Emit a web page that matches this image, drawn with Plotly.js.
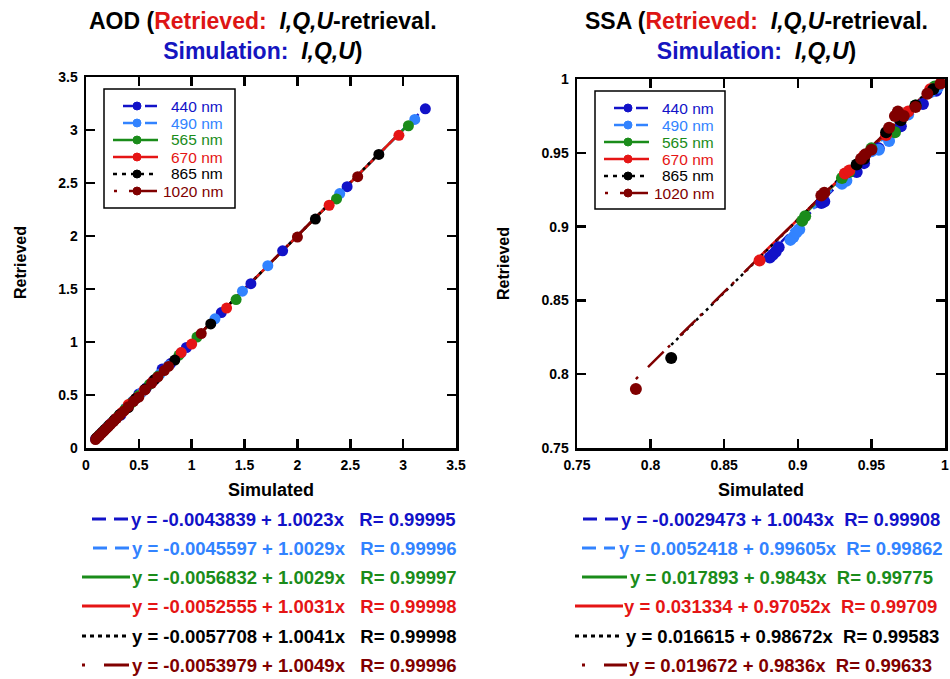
<!DOCTYPE html>
<html>
<head>
<meta charset="utf-8">
<script src="https://cdn.plot.ly/plotly-3.0.1.min.js"></script>
<style>html,body{margin:0;padding:0;background:#fff;}#chart{width:950px;height:679px;}</style>
</head>
<body>
<div id="chart"></div>
<script>
// ---------- DATA ----------
const wavelengths = ['440 nm', '490 nm', '565 nm', '670 nm', '865 nm', '1020 nm'];

// AOD: simulated (x) vs retrieved (y)
const aodSim440 = [0.09,0.13,0.16,0.2,0.24,0.28,0.33,0.38,0.44,0.5,0.57,0.64,0.72,0.8,0.95,1.28,1.56,1.86,2.47,3.21];
const aodRet440 = [0.086,0.126,0.156,0.196,0.237,0.277,0.31,0.377,0.437,0.51,0.567,0.637,0.745,0.797,0.948,1.278,1.55,1.86,2.465,3.2];
const aodSim490 = [0.1,0.14,0.18,0.22,0.27,0.32,0.38,0.45,0.53,0.61,0.7,0.78,0.9,1.22,1.48,1.72,2.4,3.11];
const aodRet490 = [0.096,0.136,0.176,0.216,0.266,0.316,0.377,0.447,0.527,0.607,0.698,0.778,0.898,1.219,1.479,1.72,2.4,3.1];
const aodSim565 = [0.1,0.13,0.17,0.21,0.26,0.31,0.37,0.43,0.5,0.6,0.68,0.88,1.05,1.42,2.37,3.05];
const aodRet565 = [0.095,0.125,0.165,0.205,0.255,0.305,0.366,0.426,0.496,0.6,0.676,0.877,1.047,1.4,2.35,3.04];
const aodSim670 = [0.1,0.12,0.15,0.19,0.23,0.28,0.34,0.4,0.47,0.55,0.63,0.9,1.0,1.33,2.3,2.96];
const aodRet670 = [0.095,0.115,0.145,0.185,0.226,0.276,0.336,0.41,0.466,0.546,0.627,0.9,0.98,1.32,2.29,2.95];
const aodSim865 = [0.1,0.12,0.15,0.18,0.22,0.27,0.32,0.4,0.47,0.56,0.65,0.84,1.18,2.17,2.77];
const aodRet865 = [0.095,0.115,0.145,0.175,0.215,0.265,0.316,0.38,0.466,0.556,0.647,0.83,1.17,2.16,2.77];
const aodSim1020 = [0.09,0.11,0.13,0.15,0.17,0.19,0.21,0.23,0.26,0.29,0.32,0.36,0.4,0.45,0.5,0.56,0.62,0.68,0.74,0.78,1.09,2.0,2.57];
const aodRet1020 = [0.08,0.1,0.12,0.14,0.16,0.18,0.2,0.22,0.25,0.28,0.31,0.35,0.39,0.44,0.48,0.55,0.61,0.67,0.73,0.77,1.08,1.99,2.56];

// SSA: simulated (x) vs retrieved (y)
const ssaSim440 = [0.881,0.883,0.885,0.887,0.916,0.918,0.94,0.945,0.955,0.97,0.985,0.994];
const ssaRet440 = [0.879,0.881,0.883,0.886,0.916,0.917,0.937,0.943,0.953,0.968,0.983,0.992];
const ssaSim490 = [0.895,0.897,0.899,0.901,0.93,0.933,0.95,0.955,0.962,0.975,0.99,0.995];
const ssaRet490 = [0.891,0.893,0.896,0.898,0.929,0.931,0.951,0.952,0.958,0.976,0.991,0.994];
const ssaSim565 = [0.903,0.905,0.93,0.935,0.95,0.966,0.98,0.993];
const ssaRet565 = [0.904,0.907,0.933,0.937,0.953,0.964,0.982,0.995];
const ssaSim670 = [0.874,0.932,0.935,0.945,0.96,0.975,0.99];
const ssaRet670 = [0.877,0.936,0.938,0.948,0.962,0.978,0.993];
const ssaSim865 = [0.814,0.94,0.945,0.96,0.97,0.98,0.992];
const ssaRet865 = [0.811,0.942,0.946,0.964,0.972,0.982,0.993];
const ssaSim1020 = [0.79,0.916,0.918,0.943,0.946,0.95,0.962,0.966,0.968,0.972,0.98,0.988,0.997];
const ssaRet1020 = [0.79,0.921,0.923,0.946,0.949,0.952,0.967,0.975,0.978,0.975,0.981,0.99,0.997];

// Linear fits (intercept, slope, R)
const aodIntercept = [-0.0043839, -0.0045597, -0.0056832, -0.0052555, -0.0057708, -0.0053979];
const aodSlope     = [1.0023, 1.0029, 1.0029, 1.0031, 1.0041, 1.0049];
const aodR         = [0.99995, 0.99996, 0.99997, 0.99998, 0.99998, 0.99996];
const ssaIntercept = [-0.0029473, 0.0052418, 0.017893, 0.031334, 0.016615, 0.019672];
const ssaSlope     = [1.0043, 0.99605, 0.9843, 0.97052, 0.98672, 0.9836];
const ssaR         = [0.99908, 0.99862, 0.99775, 0.99709, 0.99583, 0.99633];

// ---------- STYLE ----------
const colors = ['#1212c8', '#3283ff', '#1a8c1a', '#e51515', '#000000', '#800000'];
const dashes = ['10px,6px', '10px,6px', 'solid', 'solid', '3px,4px', '3px,14px,22px,6px'];
const FONT = 'Liberation Sans, Arial, Helvetica, sans-serif';

const aodSim = [aodSim440, aodSim490, aodSim565, aodSim670, aodSim865, aodSim1020];
const aodRet = [aodRet440, aodRet490, aodRet565, aodRet670, aodRet865, aodRet1020];
const ssaSim = [ssaSim440, ssaSim490, ssaSim565, ssaSim670, ssaSim865, ssaSim1020];
const ssaRet = [ssaRet440, ssaRet490, ssaRet565, ssaRet670, ssaRet865, ssaRet1020];

const traces = [];
function addPanel(sims, rets, icpts, slopes, xa, ya, msize) {
  for (let i = 0; i < 6; i++) {
    const x0 = Math.min(...sims[i]), x1 = Math.max(...sims[i]);
    traces.push({
      x: [x0, x1], y: [icpts[i] + slopes[i] * x0, icpts[i] + slopes[i] * x1],
      mode: 'lines', xaxis: xa, yaxis: ya, showlegend: false, hoverinfo: 'skip',
      line: {color: colors[i], width: 2.5, dash: dashes[i]}
    });
  }
  for (let i = 0; i < 6; i++) {
    traces.push({
      x: sims[i], y: rets[i], mode: 'markers', xaxis: xa, yaxis: ya, showlegend: false,
      name: wavelengths[i], marker: {color: colors[i], size: msize}
    });
  }
}
addPanel(aodSim, aodRet, aodIntercept, aodSlope, 'x', 'y', 11);
addPanel(ssaSim, ssaRet, ssaIntercept, ssaSlope, 'x2', 'y2', 12);

const W = 950, H = 679;
const px = v => v / W, py = v => 1 - v / H;

function axis(domain, range, dtick, anchor, titleText, isY) {
  return {
    domain: domain, range: range, dtick: dtick, tick0: range[0], anchor: anchor,
    showgrid: false, zeroline: false, showline: true, linecolor: '#000', linewidth: 2.5,
    mirror: 'ticks', ticks: 'inside', ticklen: 9, tickwidth: 2.5, tickcolor: '#000',
    tickfont: {family: FONT, size: 14, color: '#000', weight: 'bold'},
    ticklabelstandoff: 3,
    title: {text: '<b>' + titleText + '</b>', font: {family: FONT, size: isY ? 16 : 18, color: '#000'}, standoff: isY ? 28 : 11},
    fixedrange: true
  };
}

const annotations = [];
const shapes = [];

function titleAnn(xc, name) {
  annotations.push({
    xref: 'paper', yref: 'paper', x: px(xc), y: py(6), xanchor: 'center', yanchor: 'top',
    showarrow: false, align: 'center',
    font: {family: FONT, size: 23, color: '#000'},
    text: '<b>' + name + ' (<span style="color:#dd1515">Retrieved:</span>&nbsp;&nbsp;<i>I,Q,U</i>-retrieval.</b><br>' +
          '<b><span style="color:#1515c0">Simulation:</span>&nbsp;&nbsp;<i>I,Q,U</i>)</b>'
  });
}
titleAnn(263, 'AOD');
titleAnn(756, 'SSA');

// Legend (drawn as a box with line samples, dots and coloured labels)
function legendBox(bx0, by0, bx1, by1) {
  shapes.push({type: 'rect', xref: 'paper', yref: 'paper', x0: px(bx0), x1: px(bx1), y0: py(by0), y1: py(by1),
               line: {color: '#000', width: 1.5}, fillcolor: '#fff', layer: 'above'});
  const legDash = ['12px,10px', '12px,10px', 'solid', 'solid', '4px,5px', '3px,12px,30px,2px'];
  const segs = [[19, 53], [19, 53], [9, 54], [9, 54], [9, 54], [10, 53]];
  for (let i = 0; i < 6; i++) {
    const yc = by0 + 17 + 17 * i;
    shapes.push({type: 'line', xref: 'paper', yref: 'paper', layer: 'above',
                 x0: px(bx0 + segs[i][0]), x1: px(bx0 + segs[i][1]), y0: py(yc), y1: py(yc),
                 line: {color: colors[i], width: 2.5, dash: legDash[i]}});
    const cx = bx0 + 33, r = 4;
    shapes.push({type: 'circle', xref: 'paper', yref: 'paper', layer: 'above',
                 x0: px(cx - r), x1: px(cx + r), y0: py(yc - r), y1: py(yc + r),
                 fillcolor: colors[i], line: {color: colors[i], width: 1}});
    annotations.push({xref: 'paper', yref: 'paper', x: px(bx0 + 121), y: py(yc), xanchor: 'right', yanchor: 'middle',
                      showarrow: false, font: {family: FONT, size: 15.5, color: colors[i]}, text: wavelengths[i]});
  }
}
legendBox(104, 89, 235, 208);
legendBox(595, 91, 725, 209);

// Fit equations below the panels
const rowY = [519, 548, 577, 606, 636, 665];
const eqDash = ['14px,8px', '14px,8px', 'solid', 'solid', '4px,4px', '3px,19px,25px,10px'];
function eqRows(icpts, slopes, Rs, textX, lineX, gap) {
  for (let i = 0; i < 6; i++) {
    annotations.push({
      xref: 'paper', yref: 'paper', x: px(textX[i]), y: py(rowY[i]), xanchor: 'left', yanchor: 'middle',
      showarrow: false, font: {family: FONT, size: 18.5, color: colors[i]},
      text: '<b>y = ' + String(icpts[i]) + ' + ' + String(slopes[i]) + 'x' + gap + 'R= ' + String(Rs[i]) + '</b>'
    });
    shapes.push({
      type: 'line', xref: 'paper', yref: 'paper',
      x0: px(lineX[i][0]), x1: px(lineX[i][1]), y0: py(rowY[i]), y1: py(rowY[i]),
      line: {color: colors[i], width: 3, dash: eqDash[i]}
    });
  }
}
eqRows(aodIntercept, aodSlope, aodR, [129, 130, 130, 130, 130, 130],
       [[92,128],[93,130],[82,130],[82,130],[82,130],[82,130]], '&nbsp;&nbsp;&nbsp;');
eqRows(ssaIntercept, ssaSlope, ssaR, [619, 617, 628, 622, 624, 627],
       [[583,618],[582,615],[582,627],[575,623],[575,623],[582,627]], '&nbsp;&nbsp;');

const layout = {
  width: W, height: H, margin: {l: 0, r: 0, t: 0, b: 0},
  paper_bgcolor: '#fff', plot_bgcolor: '#fff', showlegend: false,
  font: {family: FONT},
  xaxis: axis([px(86), px(456)], [0, 3.5], 0.5, 'y', 'Simulated', false),
  yaxis: axis([py(448), py(77)], [0, 3.5], 0.5, 'x', 'Retrieved', true),
  xaxis2: axis([px(577), px(945)], [0.75, 1], 0.05, 'y2', 'Simulated', false),
  yaxis2: axis([py(448), py(79)], [0.75, 1], 0.05, 'x2', 'Retrieved', true),
  annotations: annotations,
  shapes: shapes
};

Plotly.newPlot('chart', traces, layout, {staticPlot: true, displayModeBar: false});
</script>
</body>
</html>
